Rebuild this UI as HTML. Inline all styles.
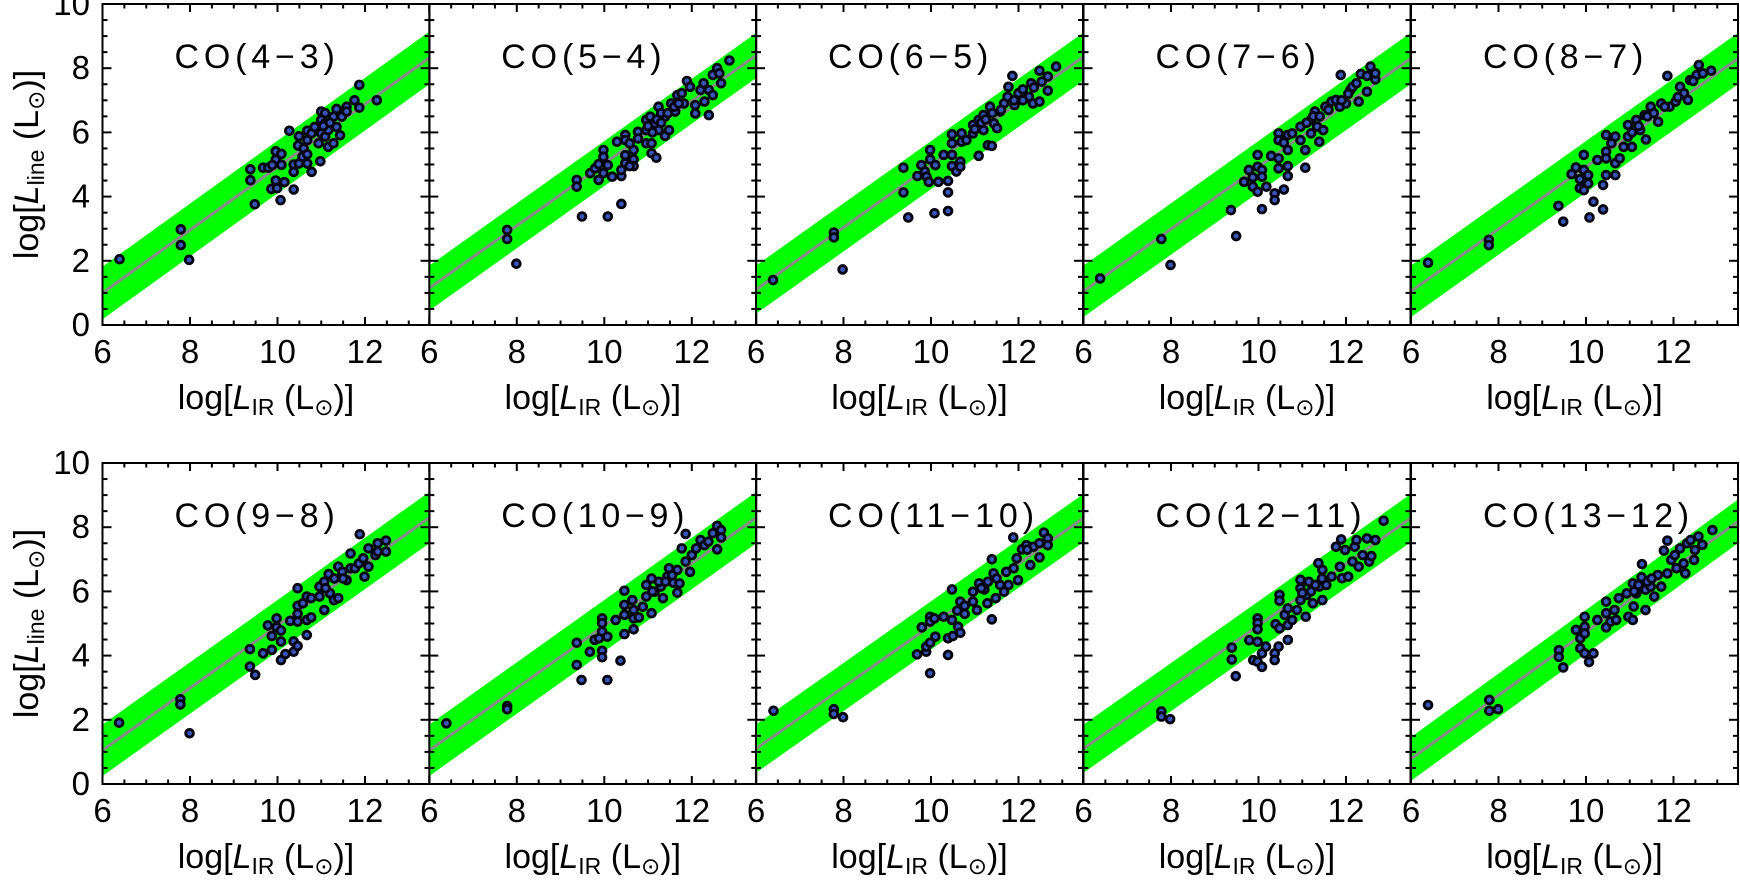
<!DOCTYPE html>
<html><head><meta charset="utf-8"><style>
html,body{margin:0;padding:0;background:#fff;}
svg{display:block;font-family:"Liberation Sans","DejaVu Sans",sans-serif;}
</style></head><body>
<svg id="chart" width="1740" height="880" viewBox="0 0 1740 880" xmlns="http://www.w3.org/2000/svg"></svg>
<script>
const panelTitles = ["CO(4\u22123)","CO(5\u22124)","CO(6\u22125)","CO(7\u22126)","CO(8\u22127)","CO(9\u22128)","CO(10\u22129)","CO(11\u221210)","CO(12\u221211)","CO(13\u221212)"];
const bandIntercept = [1.0,1.15,1.1,1.05,1.05,1.05,1.05,1.1,1.1,0.78];
const bandSlope = [0.98,0.97,0.97,0.97,0.97,0.97,0.97,0.96,0.96,0.99];
const bandHalf = [0.82,0.7,0.75,0.8,0.8,0.8,0.8,0.75,0.75,0.68];
const xTicks = [6,8,10,12];
const yTicks = [0,2,4,6,8,10];

const co43 = [[6.39,2.05],[7.79,2.98],[7.79,2.49],[7.98,2.03],[9.38,4.85],[9.38,4.51],[9.48,3.76],[9.67,4.9],[9.79,4.9],[9.96,5.41],[9.96,5.15],[9.88,4.98],[10.09,5.33],[10.09,4.99],[9.96,4.5],[9.86,4.24],[9.99,4.26],[10.07,3.89],[10.16,4.45],[10.27,6.05],[10.37,5.0],[10.37,4.77],[10.37,4.22],[10.49,5.88],[10.47,5.59],[10.49,5.03],[10.57,5.24],[10.6,5.5],[10.68,6.05],[10.68,5.76],[10.68,5.32],[10.68,5.03],[10.78,4.77],[10.78,5.97],[10.85,6.17],[10.98,5.1],[10.94,5.66],[11.0,6.65],[11.0,6.39],[11.0,5.97],[11.09,6.6],[11.09,6.28],[11.09,5.87],[11.16,6.07],[11.16,5.55],[11.28,5.66],[11.28,6.49],[11.35,6.73],[11.35,6.17],[11.43,5.91],[11.47,6.49],[11.58,6.8],[11.58,6.65],[11.76,7.0],[11.87,7.48],[11.87,6.77],[12.27,7.0],[11.05,6.2],[11.2,6.3]];
const co54 = [[7.78,2.96],[7.78,2.68],[7.99,1.91],[9.37,4.52],[9.37,4.31],[9.49,3.38],[10.08,3.38],[10.39,3.77],[10.39,4.64],[10.39,4.83],[9.68,4.73],[9.79,4.88],[9.87,5.01],[9.87,4.52],[9.98,5.45],[9.98,5.24],[9.98,4.73],[10.08,4.98],[10.18,4.62],[10.29,5.71],[10.48,5.92],[10.48,5.76],[10.48,5.29],[10.48,5.04],[10.58,5.66],[10.67,5.45],[10.67,5.16],[10.67,4.95],[10.58,4.95],[10.77,6.02],[10.77,5.81],[10.96,6.39],[10.96,6.07],[10.96,5.66],[11.08,5.66],[11.08,5.35],[11.19,5.21],[11.05,6.49],[11.15,6.28],[11.24,6.8],[11.24,6.07],[11.39,5.89],[11.48,6.07],[11.39,6.49],[11.53,6.9],[11.62,6.65],[11.67,7.16],[11.77,7.22],[11.82,6.9],[11.89,7.6],[11.96,7.42],[12.08,6.85],[12.08,6.59],[12.2,7.32],[12.27,7.53],[12.29,6.96],[12.39,6.54],[12.39,7.32],[12.48,7.16],[12.48,7.79],[12.58,8.0],[12.63,7.84],[12.67,7.53],[12.86,8.24],[11.0,6.2],[11.1,6.0],[11.2,6.4],[11.3,6.3],[11.3,6.6],[11.45,6.6],[11.6,6.8],[11.7,6.9]];
const co65 = [[6.39,1.4],[7.78,2.88],[7.78,2.73],[7.98,1.73],[9.37,4.9],[9.37,4.13],[9.48,3.35],[10.08,3.48],[10.39,3.55],[10.39,4.13],[10.39,4.49],[9.69,4.64],[9.78,4.98],[9.86,4.78],[9.9,4.62],[9.95,4.46],[9.98,5.45],[9.98,5.16],[10.1,4.98],[10.17,4.46],[10.29,5.3],[10.48,5.94],[10.48,5.66],[10.48,5.3],[10.48,4.95],[10.58,4.78],[10.67,5.09],[10.67,4.93],[10.7,5.71],[10.7,5.97],[10.81,5.76],[10.96,6.23],[10.96,5.97],[11.09,5.27],[11.09,6.39],[11.2,6.54],[11.2,6.07],[11.3,5.6],[11.39,5.58],[11.35,6.8],[11.44,6.28],[11.51,6.13],[11.58,6.65],[11.67,6.9],[11.77,7.42],[11.86,7.76],[11.75,7.11],[11.91,6.85],[12.0,7.22],[12.1,7.34],[12.24,7.11],[12.29,7.53],[12.33,6.9],[12.48,6.96],[12.48,7.92],[12.53,7.58],[12.67,7.3],[12.67,7.74],[12.86,8.05],[11.0,6.1],[11.15,6.3],[11.25,6.4],[11.4,6.6],[11.6,6.7],[11.9,7.0],[12.1,7.0],[12.35,7.4]];
const co76 = [[6.38,1.45],[7.78,2.68],[7.99,1.87],[9.37,3.58],[9.49,2.77],[10.08,3.61],[10.37,4.1],[10.37,3.89],[10.58,4.22],[10.67,4.64],[9.67,4.46],[9.78,4.83],[9.87,4.6],[9.87,4.31],[9.98,5.3],[9.98,4.93],[9.98,4.15],[10.08,4.83],[10.08,4.62],[10.18,4.31],[10.29,5.27],[10.46,5.97],[10.46,5.76],[10.46,5.19],[10.46,4.88],[10.58,5.68],[10.67,5.92],[10.67,5.45],[10.67,4.95],[10.77,5.97],[10.96,6.18],[10.96,5.76],[11.07,5.45],[11.07,4.9],[11.2,6.39],[11.2,5.97],[11.29,6.65],[11.34,6.18],[11.39,5.71],[11.48,6.07],[11.53,6.8],[11.67,6.96],[11.77,7.01],[11.86,6.8],[11.88,7.79],[12.0,6.9],[12.1,7.32],[12.15,7.42],[12.24,7.53],[12.29,6.96],[12.34,7.82],[12.48,7.27],[12.48,7.76],[12.56,8.05],[12.67,7.65],[12.67,7.84],[11.1,6.3],[11.25,6.5],[11.4,6.5],[11.6,6.7],[11.9,7.0],[12.05,7.2]];
const co87 = [[6.39,1.94],[7.78,2.65],[7.78,2.49],[9.37,3.71],[9.48,3.22],[10.08,3.35],[10.17,3.84],[10.39,3.6],[10.39,4.36],[10.46,4.67],[10.67,4.67],[9.67,4.7],[9.77,4.91],[9.86,4.54],[9.86,4.26],[9.95,5.3],[9.95,4.83],[9.95,4.2],[10.05,4.67],[10.05,4.41],[10.26,5.14],[10.46,5.92],[10.46,5.4],[10.46,5.19],[10.58,5.66],[10.67,5.87],[10.67,5.04],[10.77,5.19],[10.86,5.55],[10.96,6.23],[10.96,5.87],[11.05,5.55],[11.15,6.39],[11.24,6.07],[11.37,5.78],[11.34,6.54],[11.48,6.8],[11.65,6.33],[11.72,6.9],[11.86,7.76],[11.91,6.8],[12.05,6.96],[12.15,7.42],[12.24,7.22],[12.33,7.01],[12.38,7.63],[12.53,7.79],[12.58,8.1],[12.67,7.84],[12.86,7.92],[11.05,6.0],[11.2,6.2],[11.4,6.5],[11.55,6.6],[11.8,6.8],[12.1,7.1],[12.45,7.6]];
const co98 = [[6.38,1.91],[7.78,2.64],[7.78,2.48],[7.99,1.58],[9.37,4.2],[9.37,3.66],[9.49,3.4],[9.67,4.07],[9.78,4.94],[9.87,4.61],[9.87,4.18],[9.98,5.16],[9.98,4.88],[10.08,4.78],[10.08,4.44],[10.08,3.86],[10.18,4.05],[10.29,5.08],[10.37,4.44],[10.37,4.12],[10.46,6.1],[10.46,5.55],[10.46,5.3],[10.46,5.06],[10.46,4.3],[10.58,5.63],[10.67,5.84],[10.67,5.11],[10.67,4.64],[10.77,5.79],[10.77,5.19],[10.96,6.15],[10.96,5.84],[11.07,6.3],[11.07,5.42],[11.17,6.54],[11.2,5.94],[11.29,5.73],[11.39,6.77],[11.39,5.79],[11.48,6.61],[11.58,6.35],[11.67,7.18],[11.67,6.72],[11.77,6.72],[11.86,6.87],[11.88,7.78],[11.96,7.03],[11.99,6.46],[12.08,7.34],[12.08,6.77],[12.24,7.13],[12.29,7.5],[12.29,7.24],[12.48,7.58],[12.48,7.24],[11.1,6.1],[11.3,6.4],[11.5,6.4]];
const co109 = [[6.39,1.89],[7.78,2.43],[7.78,2.33],[9.37,4.4],[9.37,3.71],[9.48,3.24],[9.67,4.12],[9.78,4.49],[9.88,4.54],[9.95,5.16],[9.95,5.01],[9.95,4.75],[9.95,4.15],[9.95,3.95],[10.07,3.24],[10.07,4.59],[10.26,5.11],[10.37,3.84],[10.46,6.02],[10.46,5.58],[10.46,5.27],[10.46,4.67],[10.64,5.73],[10.67,5.42],[10.67,5.16],[10.67,4.82],[10.79,5.19],[10.88,5.52],[10.96,6.2],[10.96,5.84],[11.08,6.4],[11.08,5.32],[11.15,5.99],[11.29,6.15],[11.34,5.79],[11.44,6.46],[11.48,6.72],[11.58,6.27],[11.67,6.67],[11.67,5.96],[11.72,6.25],[11.77,7.34],[11.86,7.79],[11.86,6.93],[11.96,6.61],[12.0,7.13],[12.1,7.34],[12.2,7.6],[12.29,7.44],[12.38,7.55],[12.48,7.81],[12.58,7.31],[12.58,8.04],[12.67,7.91],[12.67,7.68],[11.1,6.0],[11.25,6.3],[11.4,6.3],[11.55,6.5]];
const co1110 = [[6.4,2.28],[7.78,2.33],[7.78,2.18],[7.99,2.08],[9.68,4.04],[9.79,4.88],[9.89,4.12],[9.89,4.28],[9.98,3.45],[9.98,5.21],[9.98,5.06],[9.98,4.4],[10.08,5.16],[10.1,4.59],[10.29,5.21],[10.39,4.02],[10.39,4.54],[10.48,6.06],[10.48,5.11],[10.5,4.61],[10.6,5.4],[10.62,4.9],[10.67,5.68],[10.67,4.71],[10.77,5.55],[10.77,5.3],[10.96,5.99],[10.96,5.68],[11.05,5.42],[11.1,6.25],[11.22,6.06],[11.29,5.63],[11.39,7.0],[11.39,5.13],[11.43,6.56],[11.48,5.79],[11.58,6.2],[11.67,5.99],[11.72,6.61],[11.77,6.2],[11.88,7.68],[11.89,6.72],[11.96,7.03],[11.99,6.35],[12.08,7.31],[12.18,7.44],[12.27,6.82],[12.34,7.39],[12.48,7.06],[12.48,7.5],[12.58,7.83],[12.67,7.65],[12.67,7.44],[11.15,6.1],[11.3,6.3],[11.5,6.4],[12.2,7.3]];
const co1211 = [[7.78,2.26],[7.78,2.1],[7.98,2.02],[9.39,4.25],[9.39,3.88],[9.48,3.36],[9.79,4.48],[9.88,3.86],[9.98,5.16],[9.98,5.01],[9.98,4.82],[9.98,4.43],[9.98,3.81],[10.08,3.65],[10.08,4.07],[10.17,4.28],[10.37,4.07],[10.37,3.86],[10.39,4.98],[10.46,4.28],[10.48,5.89],[10.48,5.71],[10.48,4.85],[10.6,5.27],[10.67,5.47],[10.67,4.95],[10.67,4.49],[10.77,5.11],[10.88,5.42],[10.96,6.36],[10.96,6.1],[10.96,5.73],[11.08,5.21],[11.1,5.89],[11.15,6.3],[11.24,5.63],[11.37,6.88],[11.39,6.15],[11.46,6.67],[11.46,5.73],[11.55,6.2],[11.67,6.46],[11.77,7.39],[11.86,6.77],[11.89,7.62],[11.91,6.41],[11.98,7.29],[12.05,6.46],[12.15,6.93],[12.2,7.39],[12.24,7.6],[12.29,6.77],[12.38,7.13],[12.48,7.65],[12.53,6.93],[12.58,7.1],[12.67,7.6],[12.86,8.2],[11.0,5.95],[11.2,6.0],[11.3,6.2],[11.45,6.4]];
const co1312 = [[6.39,2.46],[7.79,2.62],[7.79,2.28],[7.99,2.33],[9.38,4.17],[9.38,3.96],[9.48,3.63],[9.77,4.8],[9.87,4.54],[9.87,4.23],[9.97,5.21],[9.97,4.9],[9.97,4.69],[9.97,4.07],[10.07,3.8],[10.17,4.07],[10.26,5.11],[10.46,5.68],[10.46,5.32],[10.46,4.88],[10.56,5.06],[10.65,5.42],[10.69,5.11],[10.75,5.79],[10.93,5.94],[10.97,5.21],[11.07,6.25],[11.07,5.11],[11.09,5.53],[11.15,5.94],[11.27,6.44],[11.28,6.85],[11.36,5.42],[11.36,6.05],[11.48,6.15],[11.56,5.84],[11.64,6.51],[11.72,6.15],[11.78,7.27],[11.86,6.56],[11.86,7.58],[11.95,6.98],[12.03,7.13],[12.07,6.72],[12.15,7.34],[12.23,6.87],[12.27,6.56],[12.31,7.5],[12.39,7.6],[12.47,6.98],[12.49,7.29],[12.57,7.71],[12.66,7.45],[12.89,7.91],[11.1,6.0],[11.2,6.2],[11.4,6.3],[11.5,6.4]];
const panelData = [co43,co54,co65,co76,co87,co98,co109,co1110,co1211,co1312];

const NS = "http://www.w3.org/2000/svg";
const svg = document.getElementById("chart");
const PANEL_LEFT = [102.5,429.3,756,1083.5,1411];
const PANEL_W = 327, ROW_TOP = [4,463], PANEL_H = 321;
const XMIN = 6, XMAX = 6 + 327/43.75, YMIN = 0, YMAX = 10;

function mk(tag, attrs, parent){
  const e = document.createElementNS(NS, tag);
  for (const k in attrs) e.setAttribute(k, attrs[k]);
  (parent||svg).appendChild(e);
  return e;
}
function sx(p, v){ return PANEL_LEFT[p%5] + (v - XMIN)/(XMAX - XMIN)*PANEL_W; }
function sy(p, v){ const t = ROW_TOP[Math.floor(p/5)]; return t + PANEL_H - (v - YMIN)/(YMAX - YMIN)*PANEL_H; }

const defs = mk("defs", {});
for (let p = 0; p < 10; p++){
  const L = PANEL_LEFT[p%5], T = ROW_TOP[Math.floor(p/5)];
  const cp = mk("clipPath", {id:"clip"+p}, defs);
  mk("rect", {x:L, y:T, width:PANEL_W, height:PANEL_H}, cp);

  const g = mk("g", {"clip-path":"url(#clip"+p+")"});
  
  

  const c0 = bandIntercept[p], s = bandSlope[p], h = bandHalf[p];
  const yAt = v => c0 + s*(v - XMIN);
  const band = mk("polygon", {points:[
    sx(p,XMIN)+","+sy(p,yAt(XMIN)+h), sx(p,XMAX)+","+sy(p,yAt(XMAX)+h),
    sx(p,XMAX)+","+sy(p,yAt(XMAX)-h), sx(p,XMIN)+","+sy(p,yAt(XMIN)-h)].join(" "),
    fill:"#00ff00"}, g);
  
  
  const fit = mk("line", {x1:sx(p,XMIN), y1:sy(p,yAt(XMIN)), x2:sx(p,XMAX), y2:sy(p,yAt(XMAX)), stroke:"#8a8a8a", "stroke-width":3}, g);
  
  

  panelData[p].forEach(pt => {
    const c = mk("circle", {cx:sx(p,pt[0]), cy:sy(p,pt[1]), r:3.9, fill:"#3a55b8", stroke:"#03030f", "stroke-width":2.8}, g);
    
    
  });

  const fr = mk("rect", {x:L, y:T, width:PANEL_W, height:PANEL_H, fill:"none", stroke:"#000", "stroke-width":2});
  
  

  for (let v = 6; v <= XMAX + 1e-6; v += 0.5){
    const major = xTicks.indexOf(v) >= 0;
    const len = major ? 8 : 4.5;
    const X = sx(p,v);
    mk("line", {x1:X, y1:T+PANEL_H, x2:X, y2:T+PANEL_H-len, stroke:"#000", "stroke-width":2});
    mk("line", {x1:X, y1:T, x2:X, y2:T+len, stroke:"#000", "stroke-width":2});
  }
  for (let v = 0; v <= 10; v += 0.5){
    const major = yTicks.indexOf(v) >= 0;
    const len = major ? 9 : 5;
    const Y = sy(p,v);
    mk("line", {x1:L, y1:Y, x2:L+len, y2:Y, stroke:"#000", "stroke-width":2});
    mk("line", {x1:L+PANEL_W, y1:Y, x2:L+PANEL_W-len, y2:Y, stroke:"#000", "stroke-width":2});
  }
  xTicks.forEach(v => {
    const t = mk("text", {x:sx(p,v), y:T+PANEL_H+38, "font-size":33, "text-anchor":"middle", fill:"#000"});
    t.textContent = v;
    
    
  });
  if (p % 5 === 0){
    yTicks.forEach(v => {
      const t = mk("text", {x:90, y:sy(p,v)+11, "font-size":33, "text-anchor":"end", fill:"#000"});
      t.textContent = v;
      
      
    });
    const yt = mk("text", {x:0, y:0, "font-size":34, "text-anchor":"middle", fill:"#000",
      transform:"translate(38,"+(T+PANEL_H/2)+") rotate(-90)"});
    
    
    yt.innerHTML = 'log[<tspan font-style="italic">L</tspan><tspan font-size="23" dy="6">line</tspan><tspan dy="-6">  (L</tspan><tspan font-size="23" dy="6">\u2299</tspan><tspan dy="-6">)]</tspan>';
  }
  const xt = mk("text", {x:L+PANEL_W/2, y:T+PANEL_H+84, "font-size":34, "text-anchor":"middle", fill:"#000"});
  
  
  xt.innerHTML = 'log[<tspan font-style="italic">L</tspan><tspan font-size="23" dy="6">IR</tspan><tspan dy="-6">  (L</tspan><tspan font-size="23" dy="6">\u2299</tspan><tspan dy="-6">)]</tspan>';

  const tt = mk("text", {x:L+72, y:T+64, "font-size":34, fill:"#000",
    textLength: panelTitles[p].length*22.9, lengthAdjust:"spacing"});
  tt.textContent = panelTitles[p];
  
  
}
</script>
</body></html>
